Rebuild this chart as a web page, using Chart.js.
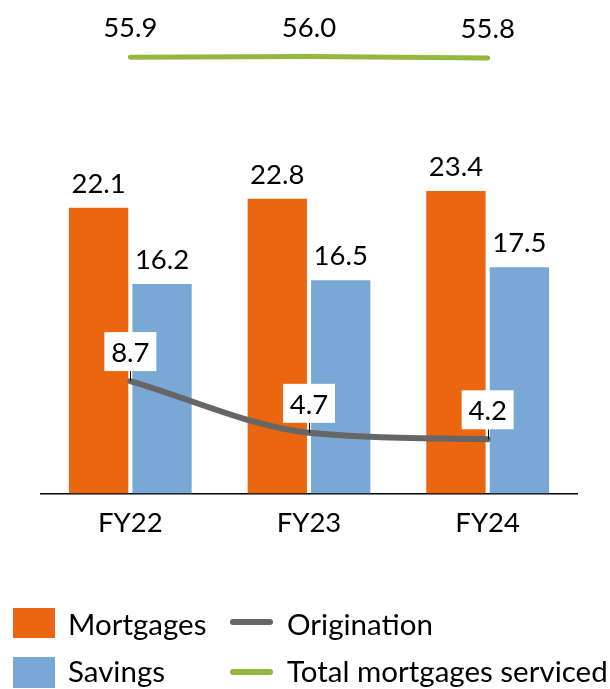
<!DOCTYPE html>
<html>
<head>
<meta charset="utf-8">
<script src="https://cdn.jsdelivr.net/npm/chart.js@4"></script>
<style>
  html, body { margin: 0; padding: 0; background: #fff; }
  #wrap { position: relative; width: 610px; height: 689px; overflow: hidden; font-family: Lato, "Open Sans", sans-serif; }
  canvas { position: absolute; left: 0; top: 0; }
  .sw { position: absolute; }
  .lt { position: absolute; font-size: 29.5px; color: #000; line-height: 1; white-space: nowrap; }
</style>
</head>
<body>
<div id="wrap">
  <canvas id="c" width="610" height="689"></canvas>
  <div class="sw" style="left:13px;top:608px;width:42px;height:30px;background:#EA6611"></div>
  <div class="lt" style="left:68px;top:609px">Mortgages</div>
  <div class="sw" style="left:13px;top:657px;width:42px;height:31px;background:#7AA8D6"></div>
  <div class="lt" style="left:68px;top:656px">Savings</div>
  <div class="sw" style="left:230px;top:619px;width:43px;height:6px;border-radius:3px;background:#666666"></div>
  <div class="lt" style="left:287px;top:609px">Origination</div>
  <div class="sw" style="left:230px;top:669px;width:43px;height:6px;border-radius:3px;background:#92B83F"></div>
  <div class="lt" style="left:287px;top:656px">Total mortgages serviced</div>
</div>
<script>
const categories = ["FY22", "FY23", "FY24"];
const mortgages = [22.1, 22.8, 23.4];
const savings = [16.2, 16.5, 17.5];
const origination = [8.7, 4.7, 4.2];
const totalServiced = [55.9, 56.0, 55.8];
const seriesNames = ["Mortgages", "Savings", "Origination", "Total mortgages serviced"];

const FONT = 'Lato, "Open Sans", sans-serif';
const FS = 27.5;

const labelPlugin = {
  id: 'labels',
  afterDatasetsDraw(chart) {
    const ctx = chart.ctx;
    ctx.save();
    ctx.font = FS + 'px ' + FONT;
    ctx.textAlign = 'center';
    ctx.textBaseline = 'alphabetic';
    [0, 1].forEach(di => {
      const meta = chart.getDatasetMeta(di);
      meta.data.forEach((el, i) => {
        ctx.fillStyle = '#000';
        ctx.fillText(chart.data.datasets[di].data[i].toFixed(1), el.x, el.y - 15);
      });
    });
    const gm = chart.getDatasetMeta(3);
    gm.data.forEach((el, i) => {
      ctx.fillStyle = '#000';
      ctx.fillText(totalServiced[i].toFixed(1), el.x, el.y - 20);
    });
    const om = chart.getDatasetMeta(2);
    om.data.forEach((el, i) => {
      const by = el.y - 19;
      ctx.strokeStyle = '#000';
      ctx.lineWidth = 1;
      ctx.beginPath();
      ctx.moveTo(Math.round(el.x) + 0.5, by + 9);
      ctx.lineTo(Math.round(el.x) + 0.5, el.y);
      ctx.stroke();
      ctx.fillStyle = '#fff';
      ctx.fillRect(el.x - 26, by - 30, 52, 39);
      ctx.fillStyle = '#000';
      ctx.fillText(origination[i].toFixed(1), el.x, by);
    });
    ctx.restore();
  }
};

new Chart(document.getElementById('c'), {
  type: 'bar',
  data: {
    labels: categories,
    datasets: [
      { label: seriesNames[0], data: mortgages, backgroundColor: '#EA6611', order: 2, yAxisID: 'y',
        categoryPercentage: 0.71, barPercentage: 0.935 },
      { label: seriesNames[1], data: savings, backgroundColor: '#7AA8D6', order: 2, yAxisID: 'y',
        categoryPercentage: 0.71, barPercentage: 0.935 },
      { type: 'line', label: seriesNames[2], data: origination, borderColor: '#666666', borderWidth: 6,
        pointRadius: 0, cubicInterpolationMode: 'monotone', order: 1, yAxisID: 'y', borderCapStyle: 'round', fill: false },
      { type: 'line', label: seriesNames[3], data: totalServiced, borderColor: '#92B83F', borderWidth: 5,
        pointRadius: 0, tension: 0, order: 1, yAxisID: 'y2', borderCapStyle: 'round', fill: false }
    ]
  },
  options: {
    responsive: false,
    animation: false,
    events: [],
    layout: { padding: { left: 41, right: 33, top: 0, bottom: 136.4 } },
    plugins: { legend: { display: false }, tooltip: { enabled: false } },
    scales: {
      x: {
        grid: { display: false, drawTicks: false },
        border: { display: true, color: '#000', width: 1.5 },
        ticks: { color: '#000', padding: 13, font: { family: FONT, size: FS } }
      },
      y: { display: false, min: 0, max: 38.17 },
      y2: { display: false, min: 0, max: 63.24 }
    }
  },
  plugins: [labelPlugin]
});
</script>
</body>
</html>
